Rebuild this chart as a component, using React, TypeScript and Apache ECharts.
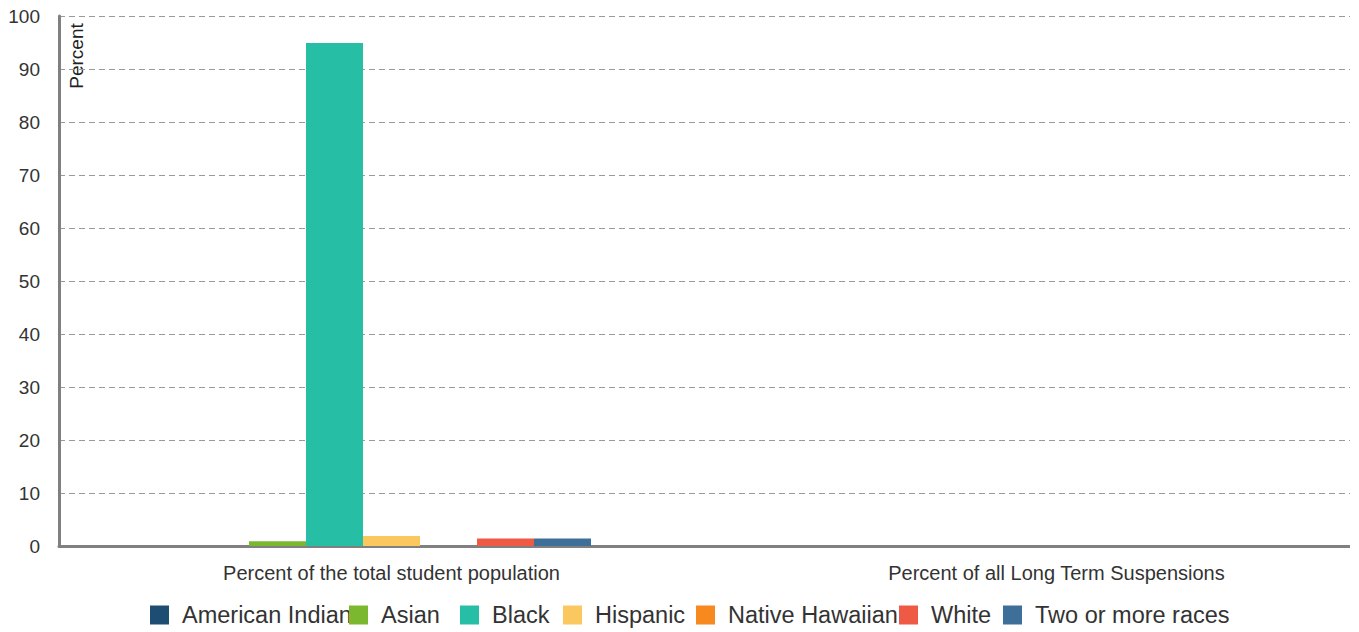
import React, { useEffect, useRef } from "react";
import * as echarts from "echarts";

const categories = ["Percent of the total student population", "Percent of all Long Term Suspensions"];
const seriesNames = ["American Indian", "Asian", "Black", "Hispanic", "Native Hawaiian", "White", "Two or more races"];
const seriesValues: number[][] = [
  [0, 0],
  [0.9, 0],
  [94.9, 0],
  [1.9, 0],
  [0, 0],
  [1.4, 0],
  [1.4, 0],
];
const seriesColors = ["#1d4d72", "#7cb82f", "#26bfa5", "#fbc85f", "#f7891f", "#ef5a45", "#3d6f99"];
const yTicks = { min: 0, max: 100, interval: 10 };
// legend item left positions (layout)
const legendLefts = [150, 349, 460, 563, 696, 899, 1003];

const FONT = "Liberation Sans, Arial, sans-serif";

export default function App() {
  const ref = useRef<HTMLDivElement>(null);
  useEffect(() => {
    if (!ref.current) return;
    const chart = echarts.init(ref.current, null, { renderer: "svg" });
    chart.setOption({
      animation: false,
      textStyle: { fontFamily: FONT },
      grid: { left: 59, top: 16, width: 1330, height: 530, containLabel: false },
      legend: seriesNames.map((name, i) => ({
        data: [name],
        left: legendLefts[i],
        top: 603,
        padding: 0,
        itemWidth: 19,
        itemHeight: 19,
        icon: "rect",
        textStyle: { fontSize: 23.5, color: "#333", padding: [0, 0, 0, 8], fontFamily: FONT },
      })),
      xAxis: {
        type: "category",
        data: categories,
        axisLine: { lineStyle: { color: "#808080", width: 3 } },
        axisTick: { show: false },
        axisLabel: { fontSize: 20, color: "#333", margin: 17 },
      },
      yAxis: {
        type: "value",
        min: yTicks.min,
        max: yTicks.max,
        interval: yTicks.interval,
        axisLine: { show: true, lineStyle: { color: "#808080", width: 3 } },
        axisTick: { show: false },
        axisLabel: { fontSize: 19, color: "#333", margin: 19 },
        splitLine: { lineStyle: { color: "#9a9a9a", type: [6, 4], width: 1 } },
      },
      graphic: [
        {
          type: "text",
          x: 67,
          y: 56,
          rotation: Math.PI / 2,
          style: {
            text: "Percent",
            fontSize: 19,
            fill: "#222",
            align: "center",
            verticalAlign: "top",
            fontFamily: FONT,
          },
        },
      ],
      series: seriesNames.map((name, i) => ({
        name,
        type: "bar",
        data: seriesValues[i],
        barGap: "0%",
        barCategoryGap: "40%",
        itemStyle: { color: seriesColors[i] },
      })),
    });
    return () => chart.dispose();
  }, []);
  return (
    <div style={{ position: "absolute", left: 0, top: 0, width: 1350, height: 632, overflow: "hidden" }}>
      <div ref={ref} style={{ width: 1400, height: 632 }} />
    </div>
  );
}
